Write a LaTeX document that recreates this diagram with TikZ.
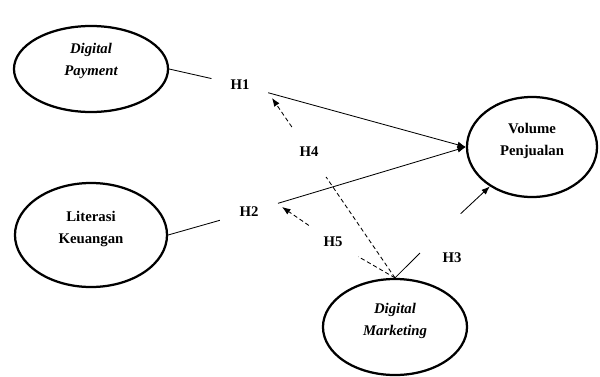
\documentclass[tikz,border=0pt]{standalone}
\usepackage{fontspec}
\setmainfont{Liberation Serif}
\usetikzlibrary{shapes.geometric,arrows.meta}

\begin{document}
\begin{tikzpicture}[x=0.025cm, y=-0.025cm,
  every node/.style={font=\fontsize{10.5}{15.5}\selectfont\bfseries},
  var/.style={ellipse, draw, line width=1.6pt, align=center, inner sep=0pt, text depth=11pt},
  hyp/.style={circle, minimum size=1.5cm, inner sep=0pt},
  link/.style={line width=0.6pt},
  arr/.style={-{Latex[length=6pt,width=4.5pt]}},
  dsh/.style={dash pattern=on 3pt off 2pt}]
\useasboundingbox (0, 0) rectangle (600, 376);
% variables
\node (dp) [var, minimum width=3.85cm, minimum height=2.15cm, text depth=14pt] at (91, 69) {\itshape Digital\\ \itshape Payment};
\node (lk) [var, minimum width=3.8cm, minimum height=2.6cm] at (91, 235) {Literasi\\ Keuangan};
\node (vp) [var, minimum width=3.25cm, minimum height=2.5cm] at (532, 147) {Volume\\ Penjualan};
\node (dm) [var, minimum width=3.6cm, minimum height=2.4cm] at (395, 327) {\itshape Digital\\ \itshape Marketing};
% hypotheses
\node (h1) [hyp, minimum size=1.45cm] at (240, 85) {H1};
\node (h2) [hyp] at (249, 212) {H2};
\node (h4) [hyp] at (309, 152) {H4};
\node (h5) [hyp, minimum size=1.45cm] at (333, 242) {H5};
\node (g3) [hyp, minimum size=1.4cm] at (440, 233) {};
\node (h3) at (452, 258) {H3};
\coordinate (t4) at (272, 98);
\coordinate (t5) at (282, 207);
% paths
\draw [link, arr] (dp.east) -- (h1) -- (vp.west);
\draw [link, arr] (lk.east) -- (h2) -- (vp.west);
\draw [link, arr] (dm.north) -- (g3) -- (vp);
\draw [link, arr, dsh] (dm.north) -- (h4) -- (t4);
\draw [link, arr, dsh] (dm.north) -- (h5) -- (t5);
\end{tikzpicture}
\end{document}
